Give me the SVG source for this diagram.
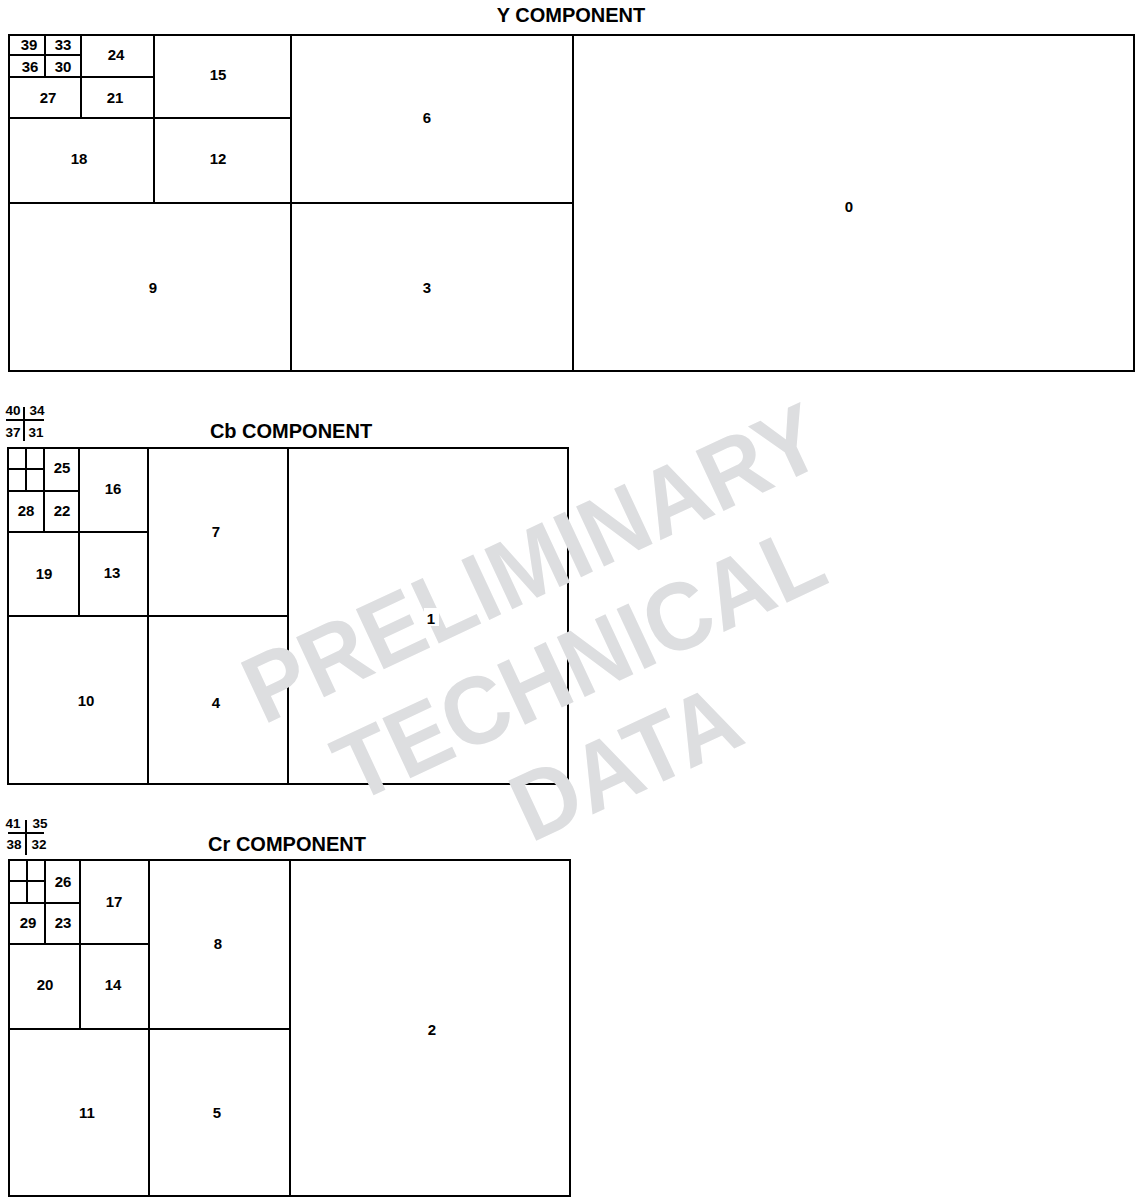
<svg xmlns="http://www.w3.org/2000/svg" width="1137" height="1197" viewBox="0 0 1137 1197">
<style>
.c{fill:none;stroke:#000;stroke-width:2}
.l{font-family:"Liberation Sans",Arial,sans-serif;font-weight:bold;font-size:15px;fill:#000;text-anchor:middle}
.s{font-family:"Liberation Sans",Arial,sans-serif;font-weight:bold;font-size:13.5px;fill:#000;text-anchor:middle}
.t{font-family:"Liberation Sans",Arial,sans-serif;font-weight:bold;font-size:20px;fill:#000;text-anchor:middle}
.w{font-family:"Liberation Sans",Arial,sans-serif;font-weight:bold;font-size:96px;fill:#dddee0;text-anchor:middle}
.k{stroke:#000;stroke-width:2}
</style>
<defs>
<mask id="wm-mask" maskUnits="userSpaceOnUse" x="0" y="0" width="1137" height="1197">
<rect width="1137" height="1197" fill="#fff"/>
<rect x="424" y="608" width="15" height="18" fill="#000"/>
</mask>
</defs>
<rect width="1137" height="1197" fill="#fff"/>
<g id="y-component">
<text class="t" x="571" y="22">Y COMPONENT</text>
<g id="y0"><rect class="c" x="573" y="35" width="561" height="336"/><text class="l" x="849" y="212">0</text></g>
<g id="y6"><rect class="c" x="291" y="35" width="282" height="168"/><text class="l" x="427" y="123">6</text></g>
<g id="y3"><rect class="c" x="291" y="203" width="282" height="168"/><text class="l" x="427" y="293">3</text></g>
<g id="y9"><rect class="c" x="9" y="203" width="282" height="168"/><text class="l" x="153" y="293">9</text></g>
<g id="y15"><rect class="c" x="154" y="35" width="137" height="83"/><text class="l" x="218" y="80">15</text></g>
<g id="y12"><rect class="c" x="154" y="118" width="137" height="85"/><text class="l" x="218" y="164">12</text></g>
<g id="y18"><rect class="c" x="9" y="118" width="145" height="85"/><text class="l" x="79" y="164">18</text></g>
<g id="y24"><rect class="c" x="81" y="35" width="73" height="42"/><text class="l" x="116" y="60">24</text></g>
<g id="y21"><rect class="c" x="81" y="77" width="73" height="41"/><text class="l" x="115" y="103">21</text></g>
<g id="y27"><rect class="c" x="9" y="77" width="72" height="41"/><text class="l" x="48" y="103">27</text></g>
<g id="y39"><rect class="c" x="9" y="35" width="36" height="20"/><text class="l" x="29" y="50">39</text></g>
<g id="y33"><rect class="c" x="45" y="35" width="36" height="20"/><text class="l" x="63" y="50">33</text></g>
<g id="y36"><rect class="c" x="9" y="55" width="36" height="22"/><text class="l" x="30" y="72">36</text></g>
<g id="y30"><rect class="c" x="45" y="55" width="36" height="22"/><text class="l" x="63" y="72">30</text></g>
</g>
<g id="cb-component">
<g id="cb-key">
<line class="k" x1="24" y1="407" x2="24" y2="441"/>
<line class="k" x1="6" y1="420" x2="44" y2="420"/>
<text class="s" x="13" y="415">40</text><text class="s" x="37" y="415">34</text>
<text class="s" x="13" y="437">37</text><text class="s" x="36" y="437">31</text>
</g>
<text class="t" x="291" y="438">Cb COMPONENT</text>
<g id="cb1"><rect class="c" x="288" y="448" width="280" height="336"/><text class="l" x="431" y="624">1</text></g>
<g id="cb7"><rect class="c" x="148" y="448" width="140" height="168"/><text class="l" x="216" y="537">7</text></g>
<g id="cb4"><rect class="c" x="148" y="616" width="140" height="168"/><text class="l" x="216" y="708">4</text></g>
<g id="cb10"><rect class="c" x="8" y="616" width="140" height="168"/><text class="l" x="86" y="706">10</text></g>
<g id="cb16"><rect class="c" x="79" y="448" width="69" height="84"/><text class="l" x="113" y="494">16</text></g>
<g id="cb13"><rect class="c" x="79" y="532" width="69" height="84"/><text class="l" x="112" y="578">13</text></g>
<g id="cb19"><rect class="c" x="8" y="532" width="71" height="84"/><text class="l" x="44" y="579">19</text></g>
<g id="cb25"><rect class="c" x="44" y="448" width="35" height="43"/><text class="l" x="62" y="473">25</text></g>
<g id="cb22"><rect class="c" x="44" y="491" width="35" height="41"/><text class="l" x="62" y="516">22</text></g>
<g id="cb28"><rect class="c" x="8" y="491" width="36" height="41"/><text class="l" x="26" y="516">28</text></g>
<g id="cb-tiny"><rect class="c" x="8" y="448" width="18" height="21"/><rect class="c" x="26" y="448" width="18" height="21"/><rect class="c" x="8" y="469" width="18" height="22"/><rect class="c" x="26" y="469" width="18" height="22"/></g>
</g>
<g id="cr-component">
<g id="cr-key">
<line class="k" x1="26" y1="820" x2="26" y2="855"/>
<line class="k" x1="8" y1="833" x2="44" y2="833"/>
<text class="s" x="13" y="828">41</text><text class="s" x="40" y="828">35</text>
<text class="s" x="14" y="849">38</text><text class="s" x="39" y="849">32</text>
</g>
<text class="t" x="287" y="851">Cr COMPONENT</text>
<g id="cr2"><rect class="c" x="290" y="860" width="280" height="336"/><text class="l" x="432" y="1035">2</text></g>
<g id="cr8"><rect class="c" x="149" y="860" width="141" height="169"/><text class="l" x="218" y="949">8</text></g>
<g id="cr5"><rect class="c" x="149" y="1029" width="141" height="167"/><text class="l" x="217" y="1118">5</text></g>
<g id="cr11"><rect class="c" x="9" y="1029" width="140" height="167"/><text class="l" x="87" y="1118">11</text></g>
<g id="cr17"><rect class="c" x="80" y="860" width="69" height="84"/><text class="l" x="114" y="907">17</text></g>
<g id="cr14"><rect class="c" x="80" y="944" width="69" height="85"/><text class="l" x="113" y="990">14</text></g>
<g id="cr20"><rect class="c" x="9" y="944" width="71" height="85"/><text class="l" x="45" y="990">20</text></g>
<g id="cr26"><rect class="c" x="45" y="860" width="35" height="43"/><text class="l" x="63" y="887">26</text></g>
<g id="cr23"><rect class="c" x="45" y="903" width="35" height="41"/><text class="l" x="63" y="928">23</text></g>
<g id="cr29"><rect class="c" x="9" y="903" width="36" height="41"/><text class="l" x="28" y="928">29</text></g>
<g id="cr-tiny"><rect class="c" x="9" y="860" width="18" height="21"/><rect class="c" x="27" y="860" width="18" height="21"/><rect class="c" x="9" y="881" width="18" height="22"/><rect class="c" x="27" y="881" width="18" height="22"/></g>
</g>
<g id="connectors"/>
<g id="watermark" mask="url(#wm-mask)">
<g transform="translate(593,693) rotate(-25) scale(0.95,1)">
<text class="w" x="0" y="-110">PRELIMINARY</text>
<text class="w" x="0" y="0">TECHNICAL</text>
<text class="w" x="0" y="110">DATA</text>
</g>
</g>
</svg>
